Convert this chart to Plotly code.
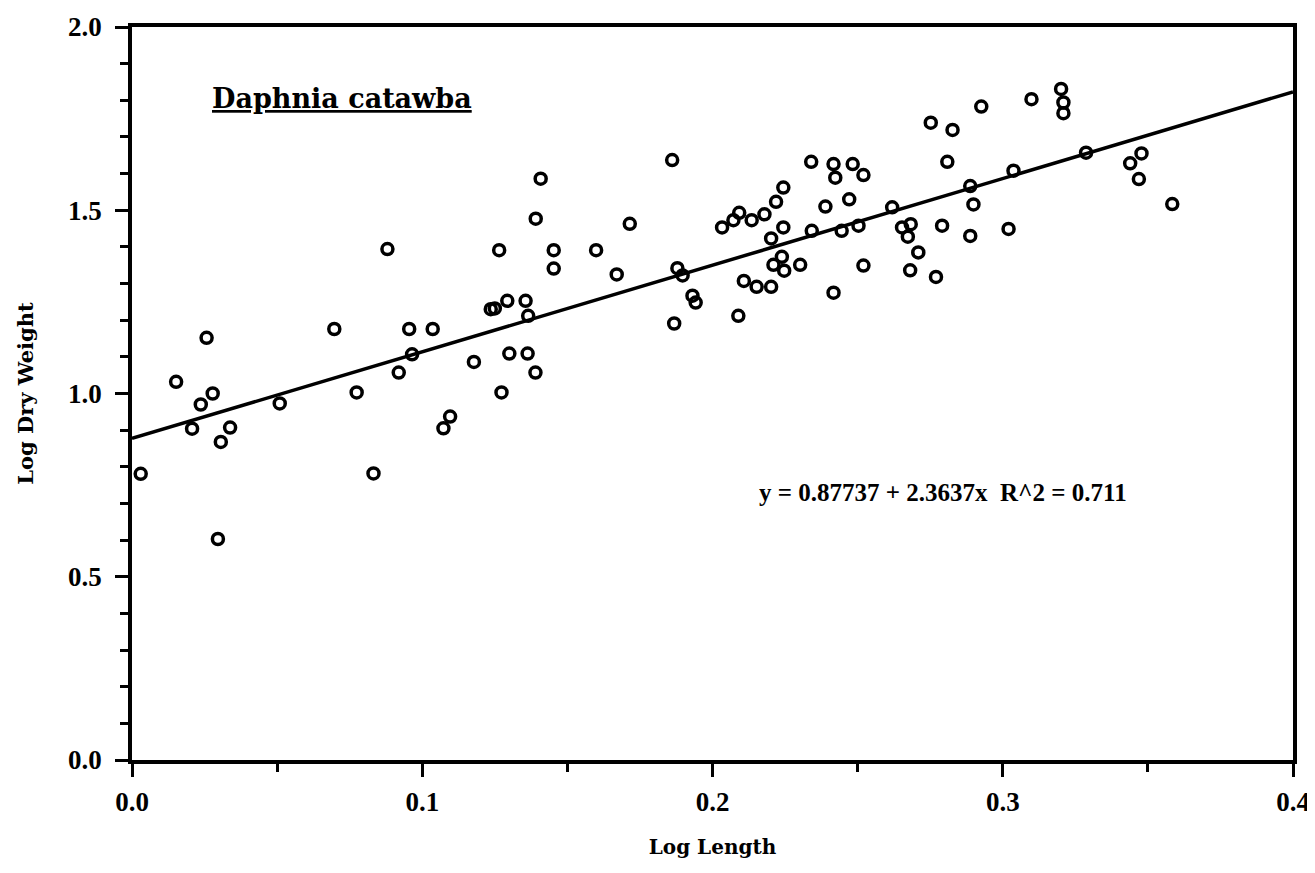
import plotly.graph_objects as go

# Data (Log Length, Log Dry Weight)
log_length = [
    0.003, 0.0152, 0.0257, 0.0207, 0.0237, 0.0278, 0.0306, 0.0338, 0.0296, 0.0509,
    0.0697, 0.0774, 0.0832, 0.088, 0.0919, 0.0955, 0.0965, 0.1036, 0.1073, 0.1096,
    0.1178, 0.1236, 0.125, 0.1265, 0.1273, 0.1293, 0.130, 0.1356, 0.1363, 0.1365,
    0.139, 0.1391, 0.1408, 0.1453, 0.1453, 0.1599, 0.1670, 0.1715, 0.1861, 0.1868,
    0.1879, 0.1897, 0.1931, 0.1942, 0.2033, 0.2072, 0.2089, 0.2092, 0.2108, 0.2135,
    0.2152, 0.2179, 0.2202, 0.2202, 0.221, 0.2219, 0.2239, 0.2244, 0.2244, 0.2247,
    0.2302, 0.234, 0.2342, 0.2389, 0.2417, 0.2417, 0.2423, 0.2445, 0.2471, 0.2483,
    0.2503, 0.252, 0.252, 0.2619, 0.2653, 0.2673, 0.2681, 0.2683, 0.2709, 0.2752,
    0.277, 0.2791, 0.2809, 0.2827, 0.2888, 0.2888, 0.2899, 0.2926, 0.3020, 0.3037,
    0.3099, 0.3201, 0.3209, 0.3209, 0.3287, 0.3439, 0.3469, 0.3478, 0.3584,
]
log_dry_weight = [
    0.781, 1.032, 1.152, 0.904, 0.970, 1.000, 0.868, 0.907, 0.603, 0.973,
    1.176, 1.003, 0.782, 1.394, 1.057, 1.176, 1.107, 1.176, 0.905, 0.937,
    1.086, 1.230, 1.232, 1.391, 1.003, 1.253, 1.109, 1.253, 1.109, 1.212,
    1.057, 1.477, 1.586, 1.391, 1.341, 1.391, 1.325, 1.463, 1.637, 1.191,
    1.342, 1.322, 1.267, 1.248, 1.453, 1.473, 1.212, 1.493, 1.307, 1.473,
    1.291, 1.489, 1.291, 1.423, 1.351, 1.523, 1.373, 1.453, 1.562, 1.335,
    1.351, 1.632, 1.444, 1.510, 1.626, 1.275, 1.589, 1.444, 1.530, 1.626,
    1.458, 1.596, 1.349, 1.508, 1.453, 1.428, 1.336, 1.462, 1.385, 1.739,
    1.318, 1.458, 1.632, 1.719, 1.566, 1.430, 1.516, 1.783, 1.449, 1.608,
    1.803, 1.831, 1.794, 1.765, 1.657, 1.628, 1.585, 1.655, 1.517,
]

intercept = 0.87737
slope = 2.3637
fit_x = [0.0, 0.4]
fit_y = [intercept + slope * v for v in fit_x]

x_ticks = [0.0, 0.1, 0.2, 0.3, 0.4]
x_tick_labels = ["0.0", "0.1", "0.2", "0.3", "0.4"]
y_ticks = [0.0, 0.5, 1.0, 1.5, 2.0]
y_tick_labels = ["0.0", "0.5", "1.0", "1.5", "2.0"]

title_text = "Daphnia catawba"
equation_text = "y = 0.87737 + 2.3637x  R^2 = 0.711"

TICKFONT = "Liberation Serif"
TEXTFONT = "DejaVu Serif"

fig = go.Figure()
fig.add_trace(go.Scatter(
    x=fit_x, y=fit_y, mode="lines",
    line=dict(color="black", width=3.5), hoverinfo="skip", showlegend=False,
))
fig.add_trace(go.Scatter(
    x=log_length, y=log_dry_weight, mode="markers",
    marker=dict(symbol="circle-open", size=11, color="black",
                line=dict(color="black", width=3.5)),
    showlegend=False,
))

fig.add_annotation(
    x=0.0269, y=1.806, xref="x", yref="y", xanchor="left", yanchor="middle",
    text="<b><u>" + title_text + "</u></b>", showarrow=False,
    font=dict(family=TEXTFONT, size=27, color="black"),
)
fig.add_annotation(
    x=0.2152, y=0.73, xref="x", yref="y", xanchor="left", yanchor="middle",
    text="<b>" + equation_text + "</b>", showarrow=False,
    font=dict(family=TICKFONT, size=25, color="black"),
)

axis_common = dict(
    ticks="outside", ticklen=13, tickwidth=2.5, tickcolor="black",
    showline=True, linecolor="black", linewidth=3.5, mirror=True,
    showgrid=False, zeroline=False, automargin=False,
    tickfont=dict(family=TICKFONT, size=27, color="black"),
)

# page body has an 8px margin, so the figure is sized to fit the window
fig.update_layout(
    width=1307, height=865,
    margin=dict(l=124, r=22, t=19, b=113),
    paper_bgcolor="white", plot_bgcolor="white",
    font=dict(family=TICKFONT, color="black"),
    xaxis=dict(
        range=[0, 0.4], tickvals=x_ticks,
        ticktext=["<b>" + t + "</b>" for t in x_tick_labels],
        minor=dict(dtick=0.05, ticks="outside", ticklen=8, tickwidth=2.5, tickcolor="black"),
        title=dict(text="<b>Log Length</b>", font=dict(family=TEXTFONT, size=20, color="black"),
                   standoff=25),
        ticklabelstandoff=2,
        **axis_common,
    ),
    yaxis=dict(
        range=[0, 2.0], tickvals=y_ticks,
        ticktext=["<b>" + t + "</b>" for t in y_tick_labels],
        minor=dict(dtick=0.1, ticks="outside", ticklen=8, tickwidth=2.5, tickcolor="black"),
        title=dict(text="<b>Log Dry Weight</b>", font=dict(family=TEXTFONT, size=21, color="black"),
                   standoff=30),
        ticklabelstandoff=8,
        **axis_common,
    ),
)

fig.write_html("out.html")
